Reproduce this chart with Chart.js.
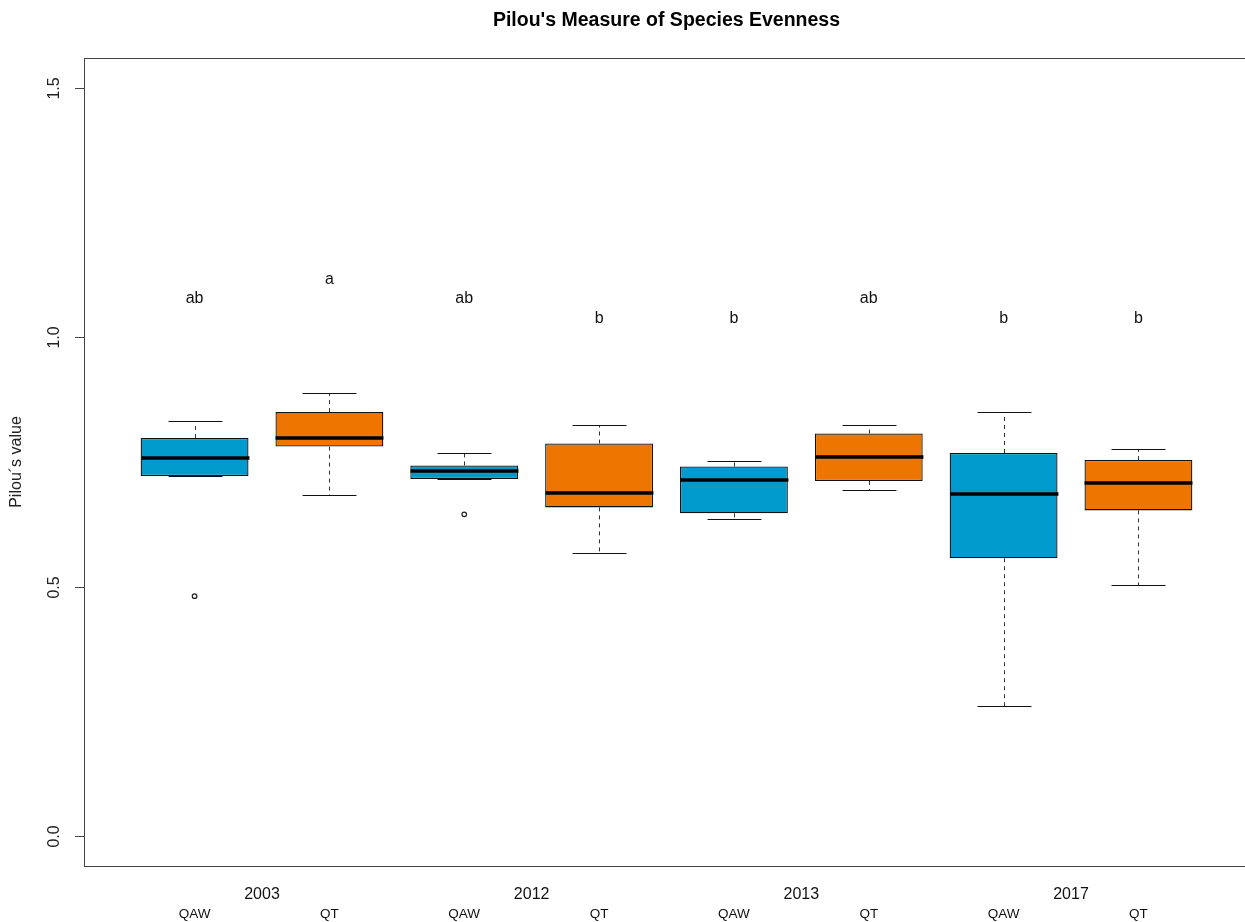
<!DOCTYPE html>
<html>
<head>
<meta charset="utf-8">
<title>Pilou's Measure of Species Evenness</title>
<script src="https://cdn.jsdelivr.net/npm/chart.js@4/dist/chart.umd.min.js"></script>
<style>
  html, body { margin: 0; padding: 0; background: #fff; overflow: hidden; }
  #wrap { width: 1260px; height: 922px; }
</style>
</head>
<body>
<div id="wrap"><canvas id="c" width="1260" height="922"></canvas></div>
<script>
// Groups: forest type within each survey year
const groups = ['QAW', 'QT', 'QAW', 'QT', 'QAW', 'QT', 'QAW', 'QT'];
const years = ['2003', '2012', '2013', '2017'];

// Five-number summaries of Pilou's evenness per group
const whiskerLow  = [0.722, 0.684, 0.716, 0.568, 0.635, 0.694, 0.260, 0.504];
const q1          = [0.722, 0.781, 0.716, 0.659, 0.647, 0.712, 0.557, 0.653];
const median      = [0.758, 0.798, 0.732, 0.688, 0.714, 0.760, 0.686, 0.708];
const q3          = [0.798, 0.850, 0.743, 0.787, 0.741, 0.807, 0.768, 0.754];
const whiskerHigh = [0.833, 0.888, 0.769, 0.825, 0.752, 0.825, 0.851, 0.776];

// Outlying observations: group position (1-based) and value
const outlierGroup = [1, 3];
const outlierValue = [0.481, 0.645];

// Significance letters from the post-hoc test
const sigLetters = ['ab', 'a', 'ab', 'b', 'b', 'ab', 'b', 'b'];
const sigLetterY = [1.08, 1.117, 1.08, 1.04, 1.04, 1.08, 1.04, 1.04];

// Y axis ticks
const yTicks = [0.0, 0.5, 1.0, 1.5];
const yTickLabels = ['0.0', '0.5', '1.0', '1.5'];

const BLUE = '#009ACD';
const ORANGE = '#EE7600';
const FONT = '"Liberation Sans", Arial, sans-serif';

const positions = groups.map((g, i) => i + 1);
function boxData(parity) {
  return positions
    .filter((p) => (p - 1) % 2 === parity)
    .map((p) => ({ x: p, y: [q1[p - 1], q3[p - 1]] }));
}

// Whiskers, caps and medians over the floating bars
const boxExtras = {
  id: 'boxExtras',
  afterDatasetsDraw(chart) {
    const ctx = chart.ctx;
    const ys = chart.scales.y;
    [0, 1].forEach((di) => {
      const meta = chart.getDatasetMeta(di);
      meta.data.forEach((bar, j) => {
        const idx = chart.data.datasets[di].data[j].x - 1;
        const cx = Math.round(bar.x) + 0.5;
        const half = bar.width / 2;
        const capHalf = bar.width / 4;
        const pLo = Math.round(ys.getPixelForValue(whiskerLow[idx])) + 0.5;
        const pQ1 = ys.getPixelForValue(q1[idx]);
        const pQ3 = ys.getPixelForValue(q3[idx]);
        const pHi = Math.round(ys.getPixelForValue(whiskerHigh[idx])) + 0.5;
        const pMed = ys.getPixelForValue(median[idx]);
        ctx.save();
        ctx.strokeStyle = '#333';
        ctx.lineWidth = 1;
        ctx.setLineDash([4, 4]);
        ctx.beginPath();
        if (pHi < pQ3 - 0.5) { ctx.moveTo(cx, pQ3); ctx.lineTo(cx, pHi); }
        if (pLo > pQ1 + 0.5) { ctx.moveTo(cx, pQ1); ctx.lineTo(cx, pLo); }
        ctx.stroke();
        ctx.setLineDash([]);
        ctx.strokeStyle = '#111';
        ctx.beginPath();
        ctx.moveTo(cx - capHalf, pHi); ctx.lineTo(cx + capHalf, pHi);
        ctx.moveTo(cx - capHalf, pLo); ctx.lineTo(cx + capHalf, pLo);
        ctx.stroke();
        ctx.strokeStyle = '#000';
        ctx.lineWidth = 3.5;
        ctx.beginPath();
        ctx.moveTo(cx - half, pMed); ctx.lineTo(cx + half, pMed);
        ctx.stroke();
        ctx.restore();
      });
    });
  }
};

// Frame, axes, labels and title
const decorations = {
  id: 'decorations',
  afterDraw(chart) {
    const ctx = chart.ctx;
    const a = chart.chartArea;
    const xs = chart.scales.x;
    const ys = chart.scales.y;
    ctx.save();
    ctx.strokeStyle = '#444';
    ctx.lineWidth = 1;
    ctx.strokeRect(Math.round(a.left) + 0.5, Math.round(a.top) + 0.5,
                   Math.round(a.right - a.left), Math.round(a.bottom - a.top));

    // y ticks
    ctx.fillStyle = '#222';
    ctx.font = '16px ' + FONT;
    ctx.textAlign = 'center';
    ctx.textBaseline = 'middle';
    yTicks.forEach((v, i) => {
      const py = Math.round(ys.getPixelForValue(v)) + 0.5;
      ctx.beginPath();
      ctx.moveTo(a.left - 9, py); ctx.lineTo(a.left, py);
      ctx.stroke();
      ctx.save();
      ctx.translate(55, py);
      ctx.rotate(-Math.PI / 2);
      ctx.fillText(yTickLabels[i], 0, 0);
      ctx.restore();
    });

    // y axis title
    ctx.save();
    ctx.translate(17, (a.top + a.bottom) / 2);
    ctx.rotate(-Math.PI / 2);
    ctx.font = '16px ' + FONT;
    ctx.fillText('Pilou\u00b4s value', 0, 0);
    ctx.restore();

    // year labels and group names
    ctx.fillStyle = '#111';
    ctx.font = '16px ' + FONT;
    years.forEach((yr, k) => {
      ctx.fillText(yr, xs.getPixelForValue(2 * k + 1.5), 895);
    });
    ctx.font = '13.5px ' + FONT;
    groups.forEach((g, i) => {
      ctx.fillText(g, xs.getPixelForValue(i + 1), 914);
    });

    // significance letters
    ctx.font = '16px ' + FONT;
    sigLetters.forEach((t, i) => {
      ctx.fillText(t, xs.getPixelForValue(i + 1), ys.getPixelForValue(sigLetterY[i]) + 1);
    });

    // title
    ctx.fillStyle = '#000';
    ctx.font = 'bold 19.5px ' + FONT;
    ctx.fillText("Pilou's Measure of Species Evenness", (a.left + a.right) / 2, 21);
    ctx.restore();
  }
};

new Chart(document.getElementById('c'), {
  type: 'bar',
  data: {
    datasets: [
      {
        label: 'QAW',
        data: boxData(0),
        backgroundColor: BLUE,
        borderColor: '#111',
        borderWidth: 1.3,
        borderSkipped: false,
        grouped: false,
        barPercentage: 0.8,
        categoryPercentage: 1.0
      },
      {
        label: 'QT',
        data: boxData(1),
        backgroundColor: ORANGE,
        borderColor: '#111',
        borderWidth: 1.3,
        borderSkipped: false,
        grouped: false,
        barPercentage: 0.8,
        categoryPercentage: 1.0
      },
      {
        type: 'scatter',
        label: 'outliers',
        data: outlierGroup.map((g, i) => ({ x: g, y: outlierValue[i] })),
        pointStyle: 'circle',
        pointRadius: 2.3,
        pointBorderWidth: 1.2,
        pointBorderColor: '#222',
        pointBackgroundColor: 'rgba(0,0,0,0)',
        showLine: false
      }
    ]
  },
  options: {
    responsive: false,
    devicePixelRatio: 1,
    animation: false,
    layout: { padding: { left: 84, top: 58, right: 11, bottom: 56 } },
    plugins: {
      legend: { display: false },
      tooltip: { enabled: false },
      title: { display: false }
    },
    scales: {
      x: {
        type: 'linear', min: 0.18, max: 8.82, offset: false, display: false,
        // one tick per group so bar widths follow the group spacing
        afterBuildTicks: (scale) => { scale.ticks = positions.map((v) => ({ value: v })); }
      },
      y: { type: 'linear', min: -0.06, max: 1.56, display: false }
    }
  },
  plugins: [boxExtras, decorations]
});
</script>
</body>
</html>
